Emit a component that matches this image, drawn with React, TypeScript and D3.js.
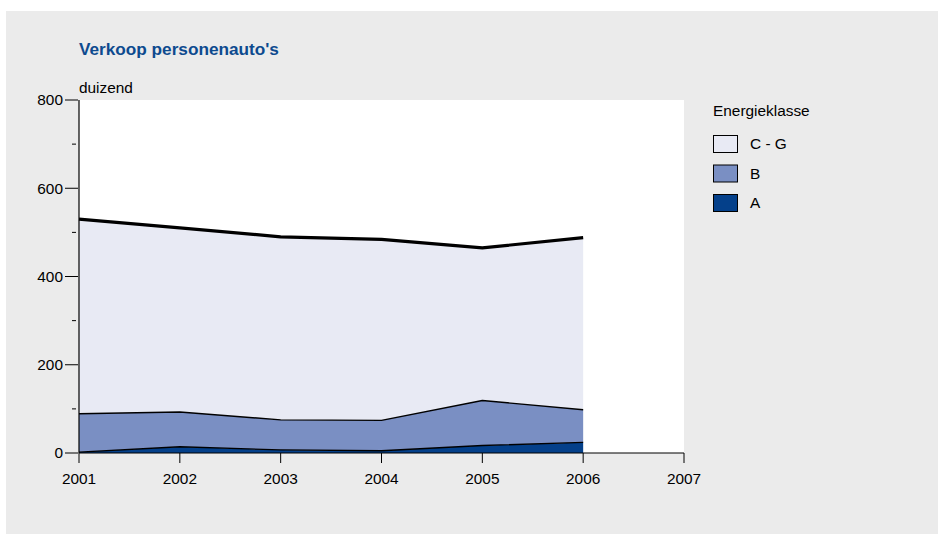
import React from "react";
import * as d3 from "d3";

const years = [2001, 2002, 2003, 2004, 2005, 2006];
const classA = [2, 14, 7, 5, 17, 24];
const classB = [87, 79, 68, 69, 102, 74];
const classCG = [441, 417, 415, 410, 346, 390];
const yTicks = [0, 200, 400, 600, 800];
const yMinorTicks = [100, 300, 500, 700];
const xTicks = [2001, 2002, 2003, 2004, 2005, 2006, 2007];
const seriesNames = ["A", "B", "C - G"];
const seriesColors = ["#04408a", "#7a8fc3", "#e8eaf4"];

const W = 938;
const H = 534;
const font = "'Liberation Sans', Arial, sans-serif";
const fs = 15.4;

export default function App() {
  const x = d3.scaleLinear().domain([2001, 2007]).range([79, 684]);
  const y = d3.scaleLinear().domain([0, 800]).range([453, 100]);

  const table = years.map((yr, i) => ({ year: yr, A: classA[i], B: classB[i], "C - G": classCG[i] }));
  const stack = d3.stack<any>().keys(seriesNames)(table);
  const area = d3
    .area<any>()
    .x((d) => x(d.data.year))
    .y0((d) => y(d[0]))
    .y1((d) => y(d[1]));
  const line = d3
    .line<any>()
    .x((d) => x(d.data.year))
    .y((d) => y(d[1]));

  const legendItems = [
    { name: "C - G", color: seriesColors[2] },
    { name: "B", color: seriesColors[1] },
    { name: "A", color: seriesColors[0] },
  ];

  return (
    <svg
      width={W}
      height={H}
      style={{ position: "absolute", left: 0, top: 0, display: "block" }}
      fontFamily={font}
    >
      <rect x={0} y={0} width={W} height={H} fill="#ffffff" />
      <rect x={6} y={11} width={W - 6} height={H - 11} fill="#ebebeb" />
      <text x={79} y={55} fill="#0d4a8f" fontSize={17.2} fontWeight="bold">
        Verkoop personenauto's
      </text>
      <text x={79} y={93} fill="#000" fontSize={fs}>
        duizend
      </text>
      <rect x={79} y={100} width={605} height={353} fill="#ffffff" />
      {stack.map((s, i) => (
        <path key={"a" + i} d={area(s) || ""} fill={seriesColors[i]} />
      ))}
      {stack.map((s, i) => (
        <path
          key={"l" + i}
          d={line(s) || ""}
          fill="none"
          stroke="#000"
          strokeWidth={i === 2 ? 3.2 : 1.4}
          strokeLinejoin="round"
        />
      ))}
      {/* y axis */}
      <line x1={79} x2={79} y1={100} y2={453} stroke="#000" strokeWidth={1.2} />
      {yTicks.map((t) => (
        <g key={"yt" + t}>
          <line x1={65} x2={78} y1={y(t)} y2={y(t)} stroke="#000" strokeWidth={1} />
          <text x={63} y={y(t)} dy="0.35em" textAnchor="end" fontSize={fs} fill="#000">
            {t}
          </text>
        </g>
      ))}
      {yMinorTicks.map((t) => (
        <line key={"ym" + t} x1={72} x2={76} y1={y(t)} y2={y(t)} stroke="#000" strokeWidth={1} />
      ))}
      {/* x axis */}
      <line x1={79} x2={684} y1={453} y2={453} stroke="#000" strokeWidth={1.2} />
      {xTicks.map((t) => (
        <g key={"xt" + t}>
          <line x1={x(t)} x2={x(t)} y1={453} y2={463} stroke="#000" strokeWidth={1} />
          <text x={x(t)} y={484} textAnchor="middle" fontSize={fs} fill="#000">
            {t}
          </text>
        </g>
      ))}
      {/* legend */}
      <text x={713} y={116} fontSize={fs} fill="#000">
        Energieklasse
      </text>
      {legendItems.map((it, i) => (
        <g key={"lg" + i} transform={`translate(713, ${135 + i * 29.5})`}>
          <rect x={0.5} y={0.5} width={24} height={17} fill={it.color} stroke="#000" strokeWidth={1} />
          <text x={37} y={9} dy="0.35em" fontSize={fs} fill="#000">
            {it.name}
          </text>
        </g>
      ))}
    </svg>
  );
}
